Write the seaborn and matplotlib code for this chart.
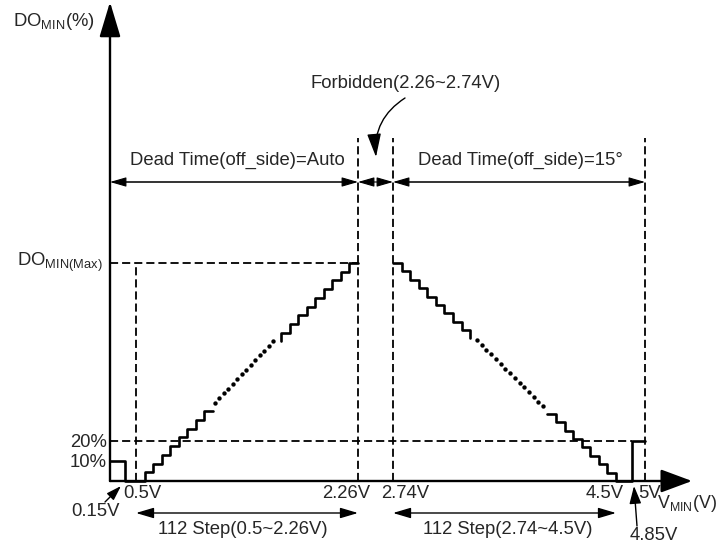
import numpy as np
import matplotlib.pyplot as plt
import seaborn as sns

# values
volt_marks = [0.15, 0.5, 2.26, 2.74, 4.5, 4.85, 5.0]
volt_labels = ["0.15V", "0.5V", "2.26V", "2.74V", "4.5V", "4.85V", "5V"]
duty_marks = [10, 20]
duty_labels = ["10%", "20%"]
do_max = 108                 # DO_MIN(Max), schematic level
ramp_up = [0.5, 2.26]        # Dead Time(off_side)=Auto
ramp_down = [2.74, 4.5]      # Dead Time(off_side)=15°
low_box = [0.15, 10]         # 0~0.15V -> 10%
high_box = [4.85, 20]        # 4.85~5V -> 20%
drawn_slots = 26             # the 112 steps are drawn as 26 slots

# schematic (non-linear) voltage axis: volts -> pixel column
V_ANCHOR = [-2.0, 0.0, 0.15, 0.5, 2.26, 2.74, 4.5, 4.85, 5.0, 6.0]
PX_ANCHOR = [0, 110, 125, 136, 358, 393, 616, 632, 645, 720]
Y0_PX, YMAX_PX = 481, 263


def fwd(v):
    return np.interp(v, V_ANCHOR, PX_ANCHOR)


def inv(p):
    return np.interp(p, PX_ANCHOR, V_ANCHOR)


def vx(px):
    return float(inv(px))


def vy(py):
    return (Y0_PX - py) * do_max / (Y0_PX - YMAX_PX)


sns.set_style("white")
plt.rcParams["font.family"] = ["Liberation Sans", "DejaVu Sans"]
plt.rcParams["mathtext.fontset"] = "custom"
plt.rcParams["mathtext.rm"] = "Liberation Sans"
plt.rcParams["mathtext.it"] = "Liberation Sans:italic"
plt.rcParams["mathtext.bf"] = "Liberation Sans:bold"
FS = 13.3

fig = plt.figure(figsize=(7.2, 5.49), dpi=100)
ax = fig.add_axes([0, 0, 1, 1])
ax.set_xscale("function", functions=(fwd, inv))
ax.set_xlim(V_ANCHOR[0], V_ANCHOR[-1])
ax.set_ylim(vy(549), vy(0))
ax.axis("off")


def arrow(x0, y0, x1, y1, hl, hw, style="-|>", lw=1.0, color="black", rad=0.0):
    ax.annotate("", xy=(x1, y1), xytext=(x0, y0),
                arrowprops=dict(arrowstyle=f"{style},head_length={hl},head_width={hw}",
                                lw=lw, color=color, shrinkA=0, shrinkB=0,
                                mutation_scale=1, connectionstyle=f"arc3,rad={rad}"))


# staircases
w_up = (ramp_up[1] - ramp_up[0]) / drawn_slots
w_dn = (ramp_down[1] - ramp_down[0]) / drawn_slots


def lvl_up(k):
    return do_max * np.asarray(k) / (drawn_slots - 1)


def lvl_dn(k):
    return do_max * (1 - np.asarray(k) / drawn_slots)


k = np.arange(1, 9)
x1 = np.r_[0, low_box[0], ramp_up[0] + w_up * np.r_[k, 9]]
y1 = np.r_[low_box[1], 0, lvl_up(np.r_[k, 8])]
x2 = ramp_up[0] + w_up * np.r_[17, np.arange(17, 27)]
y2 = lvl_up(np.r_[16, np.arange(17, 26), 25])
x3 = ramp_down[0] + w_dn * np.arange(0, 10)
y3 = lvl_dn(np.arange(0, 10))
x4 = np.r_[ramp_down[0] + w_dn * np.arange(18, 27), high_box[0], 5.0]
y4 = np.r_[lvl_dn(np.arange(18, 27)), high_box[1], high_box[1]]

for xs, ys in [(x1, y1), (x2, y2), (x3, y3), (x4, y4)]:
    sns.lineplot(x=xs, y=ys, ax=ax, color="black", lw=1.9, drawstyle="steps-post",
                 estimator=None, sort=False)

# ellipsis dots for the omitted steps
dl = np.linspace(9.25, 16.05, 14)
sns.scatterplot(x=ramp_up[0] + w_up * dl, y=lvl_up(np.linspace(8.95, 16.05, 14)),
                ax=ax, color="black", s=10, linewidth=0)
dr = np.linspace(9.8, 17.5, 15)
sns.scatterplot(x=ramp_down[0] + w_dn * dr, y=lvl_dn(np.linspace(9.2, 17.1, 15)),
                ax=ax, color="black", s=10, linewidth=0)

# dashed guides
dash = dict(color="black", lw=1.3, dashes=(4.5, 2.2))
ax.plot([ramp_up[0]] * 2, [0, do_max], **dash)
ax.plot([0, ramp_up[1]], [do_max] * 2, **dash)
ax.plot([0, high_box[0]], [high_box[1]] * 2, **dash)
for v in [ramp_up[1], ramp_down[0], 5.0]:
    ax.plot([v, v], [0, vy(138)], **dash)

# axes with arrow heads
arrow(0, 0, vx(692), 0, 19.4, 7.2, lw=1.7)
arrow(0, 0, 0, vy(2), 21.6, 6.5, lw=1.7)

# dead-time / forbidden dimension arrows
yd = vy(182)
for a, b in [(0, ramp_up[1]), (ramp_down[0], 5.0)]:
    arrow(a, yd, b, yd, 10, 2.9, style="<|-|>", lw=0.8)
    ax.plot([vx(fwd(a) + 14), vx(fwd(b) - 14)], [yd, yd], color="#666666", lw=1.2)
arrow(ramp_up[1], yd, ramp_down[0], yd, 10, 2.9, style="<|-|>", lw=0.8)

# step-count arrows
ys_ = vy(513)
arrow(ramp_up[0], ys_, ramp_up[1], ys_, 10.8, 3.2, style="<|-|>", lw=1.0)
arrow(ramp_down[0], ys_, ramp_down[1], ys_, 10.8, 3.2, style="<|-|>", lw=1.0)

# pointer arrows
arrow(vx(105), vy(502), vx(121), vy(486), 9, 2.9, lw=1.0)
arrow(vx(637), vy(526), vx(634), vy(486), 10.8, 3.6, lw=1.0)
arrow(vx(405), vy(98), vx(376), vy(157), 14.4, 4.3, lw=1.0, rad=0.3)

# axis labels
label_offsets = [(-29, -31), (6, -12), (-12, -12), (12, -12), (-11, -12), (22, -54), (5, -12)]
for v, lab, off in zip(volt_marks, volt_labels, label_offsets):
    ax.annotate(lab, xy=(v, 0), xytext=off, textcoords="offset pixels",
                ha="center", va="center", fontsize=FS)
for d, lab in zip(duty_marks, duty_labels):
    ax.annotate(lab, xy=(0, d), xytext=(-3, -2), textcoords="offset pixels",
                ha="right", va="center", fontsize=FS)


def label(px, py, s, ha="center", fs=FS):
    ax.text(vx(px), vy(py), s, ha=ha, va="center", fontsize=fs)


label(13, 22, r"DO$_{\mathrm{MIN}}$(%)", ha="left")
label(103, 262, r"DO$_{\mathrm{MIN(Max)}}$", ha="right")
label(717, 503, r"V$_{\mathrm{MIN}}$(V)", ha="right", fs=12.8)
label(243, 530, "112 Step(0.5~2.26V)")
label(508, 530, "112 Step(2.74~4.5V)")
label(237, 160, "Dead Time(off_side)=Auto")
label(520, 160, "Dead Time(off_side)=15°")
label(406, 84, "Forbidden(2.26~2.74V)")

fig.savefig("out.png", dpi=100)
